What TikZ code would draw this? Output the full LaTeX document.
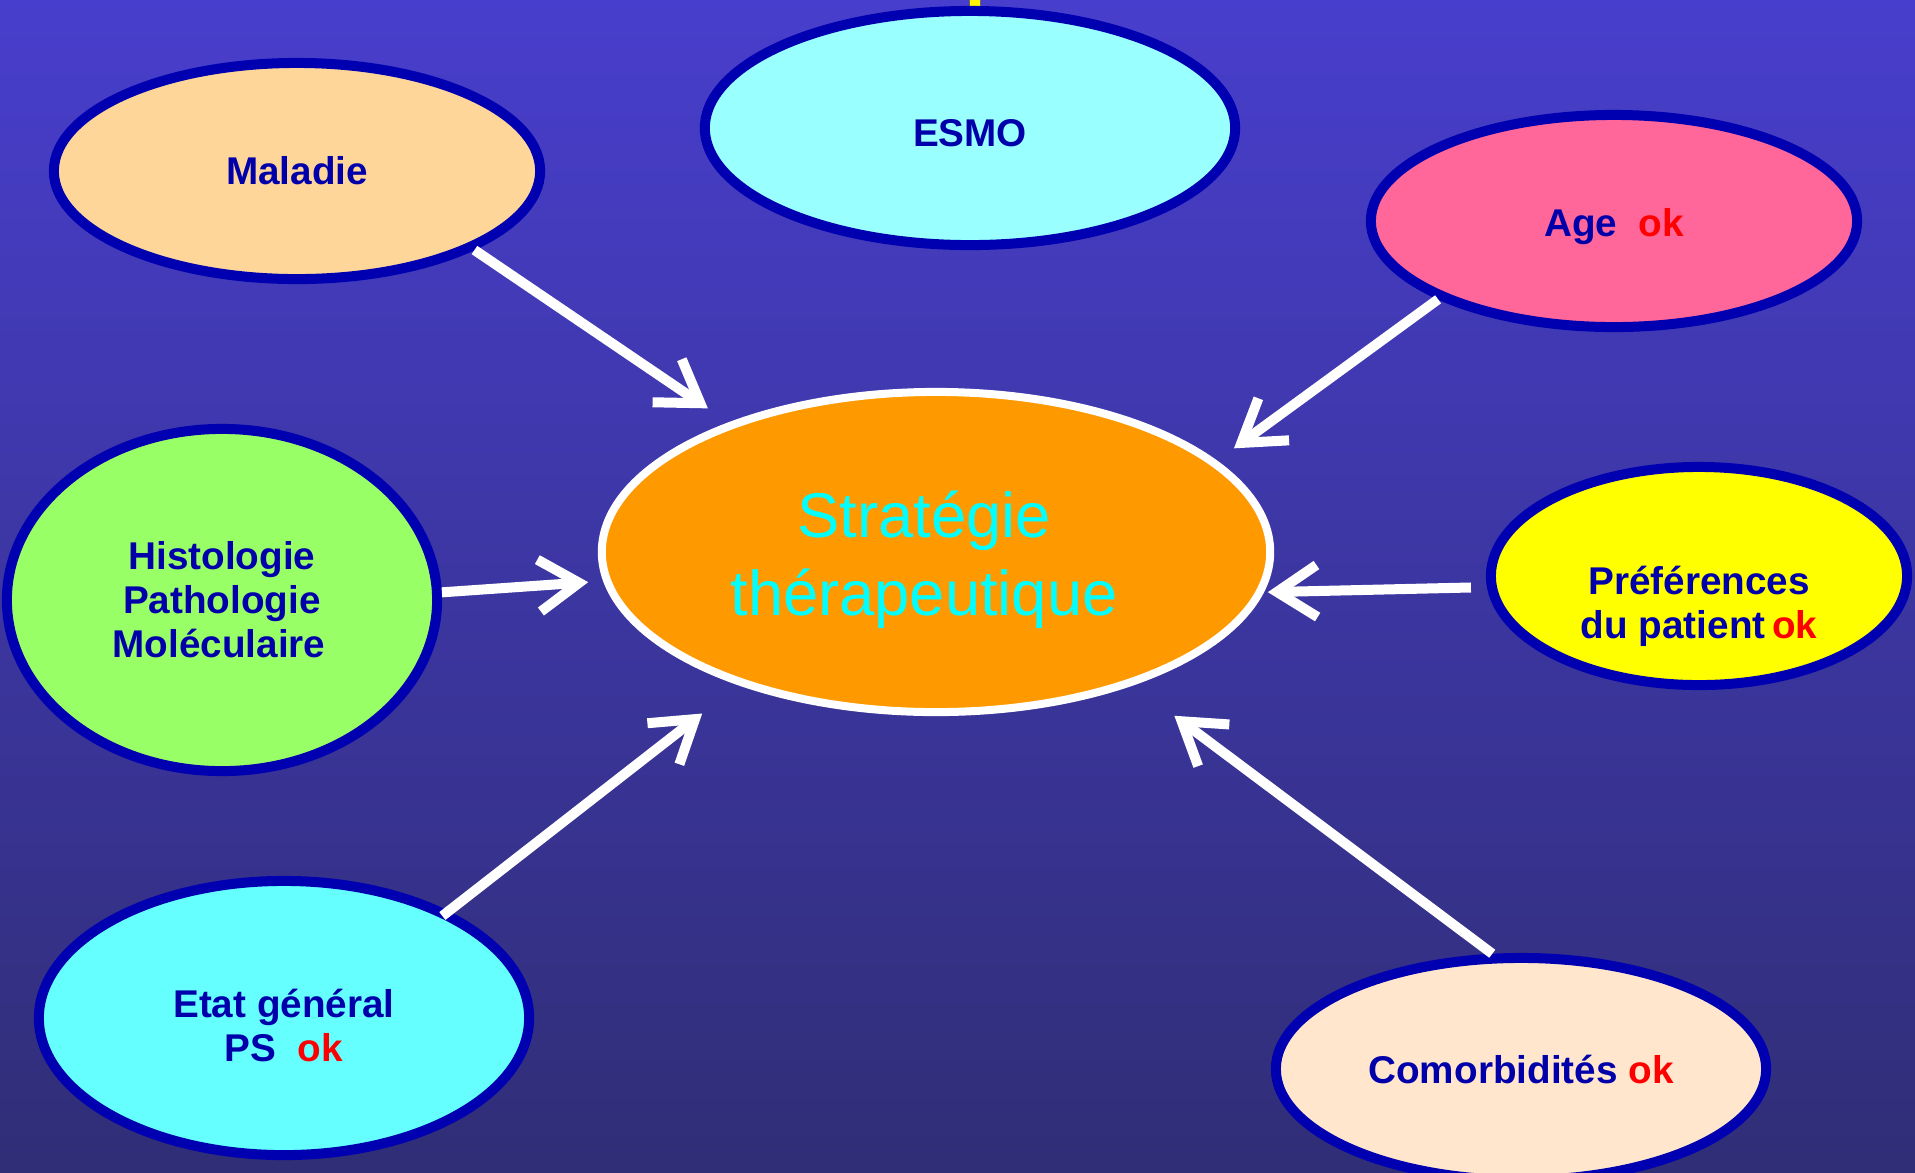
\documentclass[tikz,border=0pt]{standalone}
\usepackage{fontspec}
\setmainfont{Liberation Sans}
\usepackage{tikz}
\usetikzlibrary{positioning,arrows.meta,shapes.geometric}

\definecolor{bgtop}{RGB}{72,62,205}
\definecolor{bgbottom}{RGB}{48,46,118}
\definecolor{rimblue}{RGB}{0,0,176}
\definecolor{txtblue}{RGB}{0,0,170}
\definecolor{okred}{RGB}{255,0,0}
\definecolor{ccentre}{RGB}{0,255,255}
\definecolor{cpeach}{RGB}{255,214,153}
\definecolor{cesmo}{RGB}{153,255,255}
\definecolor{cpink}{RGB}{255,102,153}
\definecolor{cgreen}{RGB}{153,255,102}
\definecolor{corange}{RGB}{255,153,0}
\definecolor{cyellow}{RGB}{255,255,0}
\definecolor{ccyan}{RGB}{102,255,255}
\definecolor{ccream}{RGB}{255,230,204}

\newcommand{\ok}{\textcolor{okred}{ok}}
\newcommand{\lift}[1]{\rule{0pt}{#1}}

\begin{document}
\begin{tikzpicture}[
			x=0.01cm,
			y=-0.01cm,
			bubble/.style={
				ellipse,
				draw=rimblue,
				line width=0.10cm,
				inner sep=0pt,
				align=center,
				text=txtblue,
				font=\fontsize{11}{12.5}\selectfont\bfseries
			},
			link/.style={
				draw=white,
				line width=0.10cm,
				-{Straight Barb[length=0.40cm,width=0.52cm]}
			}
			]
			
			%%%%%%%%%%%%%%%%%%%%%%%%%%%%%%%%%%%%%%%%%%%%%%%%%%%%%%
			% Background
			%%%%%%%%%%%%%%%%%%%%%%%%%%%%%%%%%%%%%%%%%%%%%%%%%%%%%%
			
			\useasboundingbox (0,0) rectangle (1915,1172);
			\clip (0,0) rectangle (1915,1172);
			\fill[top color=bgtop, bottom color=bgbottom]
			(0,0) rectangle (1915,1172);
			\fill[yellow, draw=black!60, line width=0.01cm]
			(969,-4) rectangle (980,6);
			
			%%%%%%%%%%%%%%%%%%%%%%%%%%%%%%%%%%%%%%%%%%%%%%%%%%%%%%
			% Nodes
			%%%%%%%%%%%%%%%%%%%%%%%%%%%%%%%%%%%%%%%%%%%%%%%%%%%%%%
			
			\node (strategie) [ellipse, draw=white, line width=0.08cm,
			fill=corange, inner sep=0pt, align=center, text=ccentre,
			minimum width=6.68cm, minimum height=3.20cm,
			font=\fontsize{18}{22}\selectfont] at (936,552)
			{\lift{0.62cm}Stratégie\hspace*{0.24cm}\\thérapeutique\hspace*{0.24cm}};
			
			\node (maladie) [bubble, fill=cpeach,
			minimum width=4.86cm, minimum height=2.16cm] at (297,171)
			{Maladie};
			
			\node (esmo) [bubble, fill=cesmo,
			minimum width=5.30cm, minimum height=2.34cm] at (970,128)
			{\lift{0.38cm}ESMO};
			
			\node (age) [bubble, fill=cpink,
			minimum width=4.86cm, minimum height=2.12cm] at (1614,221)
			{\lift{0.40cm}Age~~\ok};
			
			\node (histo) [bubble, fill=cgreen,
			minimum width=4.30cm, minimum height=3.42cm] at (222,600)
			{Histologie\\Pathologie\\Moléculaire\hspace*{0.06cm}};
			
			\node (pref) [bubble, fill=cyellow,
			minimum width=4.16cm, minimum height=2.18cm] at (1699,576)
			{\lift{0.88cm}Préférences\\du patient\,\ok};
			
			\node (etat) [bubble, fill=ccyan,
			minimum width=4.90cm, minimum height=2.74cm] at (284,1018)
			{\lift{0.44cm}Etat général\\PS~~\ok};
			
			\node (comorb) [bubble, fill=ccream,
			minimum width=4.90cm, minimum height=2.22cm] at (1521,1069)
			{Comorbidités~\ok};
			
			%%%%%%%%%%%%%%%%%%%%%%%%%%%%%%%%%%%%%%%%%%%%%%%%%%%%%%
			% Arrows
			%%%%%%%%%%%%%%%%%%%%%%%%%%%%%%%%%%%%%%%%%%%%%%%%%%%%%%
			
			\draw[link, shorten >=0.25cm]
			(maladie.-24) -- (strategie.148);
			
			\draw[link, shorten >=0.21cm]
			(age.204) -- (strategie.18);
			
			\draw[link, shorten >=0.15cm]
			(histo.2) -- (strategie.-175);
			
			\draw[link, shorten <=0.16cm, shorten >=0.04cm]
			(pref.183) -- (strategie.-7);
			
			\draw[link, shorten <=-0.08cm, shorten >=0.46cm]
			(etat.33) -- (strategie.-146);
			
			\draw[link, shorten >=0.51cm]
			(comorb.104) -- (strategie.-34);
			
			%%%%%%%%%%%%%%%%%%%%%%%%%%%%%%%%%%%%%%%%%%%%%%%%%%%%%%
			
		\end{tikzpicture}
\end{document}
